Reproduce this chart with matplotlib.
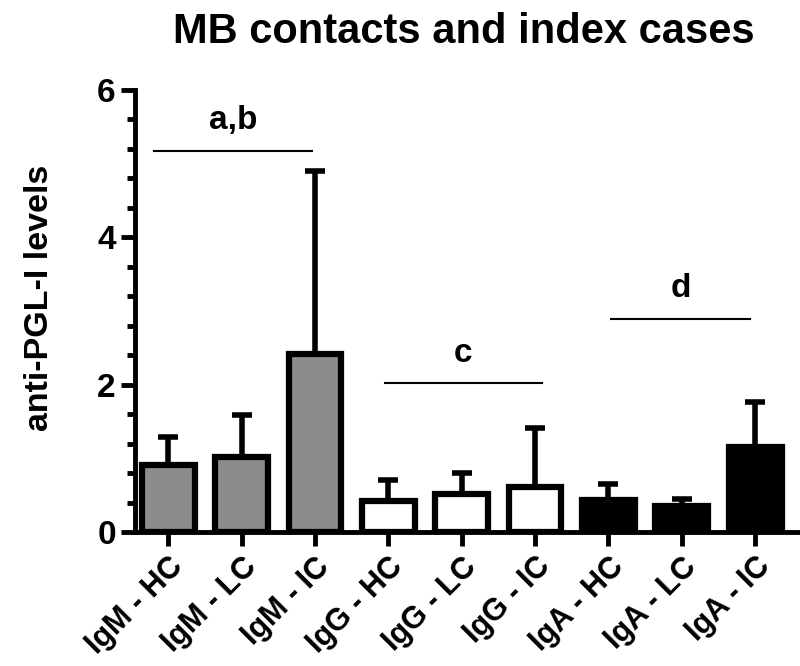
import matplotlib.pyplot as plt
import numpy as np

plt.rcParams['font.family'] = ['Liberation Sans', 'DejaVu Sans']
plt.rcParams['font.weight'] = 'bold'

labels = ['IgM - HC', 'IgM - LC', 'IgM - IC',
          'IgG - HC', 'IgG - LC', 'IgG - IC',
          'IgA - HC', 'IgA - LC', 'IgA - IC']
means = [0.91, 1.02, 2.42, 0.42, 0.52, 0.61, 0.44, 0.35, 1.15]
upper = [1.29, 1.59, 4.90, 0.71, 0.80, 1.41, 0.65, 0.45, 1.76]
colors = ['#8c8c8c'] * 3 + ['white'] * 3 + ['black'] * 3

# significance brackets: (x start, x end, y, label)
brackets = [(-0.2, 1.96, 5.17, 'a,b'),
            (2.95, 5.09, 2.02, 'c'),
            (6.04, 7.93, 2.89, 'd')]

fig = plt.figure(figsize=(8, 6.66), dpi=100)
ax = fig.add_axes([0.169, 0.201, 0.83, 0.664])

x = np.arange(len(labels))
err = np.array(upper) - np.array(means)
ax.bar(x, means, width=0.72, color=colors, edgecolor='black', linewidth=4.5, zorder=3)
ax.errorbar(x, means, yerr=[np.zeros(len(x)), err], fmt='none', ecolor='black',
            elinewidth=4, capsize=7, capthick=4, zorder=2)

for x0, x1, y, txt in brackets:
    ax.plot([x0, x1], [y, y], color='black', linewidth=1.5)
    ax.text((x0 + x1) / 2, y + 0.2, txt, ha='center', va='bottom',
            fontsize=24, fontweight='bold')

ax.set_xlim(-0.45, 8.6)
ax.set_ylim(0, 6)
ax.set_yticks([0, 2, 4, 6])
ax.set_yticks(np.arange(0, 6.01, 0.4), minor=True)
ax.set_xticks(x)
ax.set_xticklabels(labels, rotation=45, ha='right', rotation_mode='anchor',
                   fontsize=22, fontweight='bold')
ax.tick_params(axis='y', which='major', length=10, width=3.5, labelsize=24, pad=4)
ax.tick_params(axis='y', which='minor', length=6, width=3.5)
ax.tick_params(axis='x', which='major', length=10, width=3.5, pad=4)

for s in ['top', 'right']:
    ax.spines[s].set_visible(False)
for s in ['left', 'bottom']:
    ax.spines[s].set_linewidth(3.5)

ax.set_ylabel('anti-PGL-I levels', fontsize=24.5, fontweight='bold', labelpad=30, y=0.53)
fig.text(0.58, 0.952, 'MB contacts and index cases', ha='center', va='center',
         fontsize=30, fontweight='bold')

fig.savefig('out.png', dpi=100)
